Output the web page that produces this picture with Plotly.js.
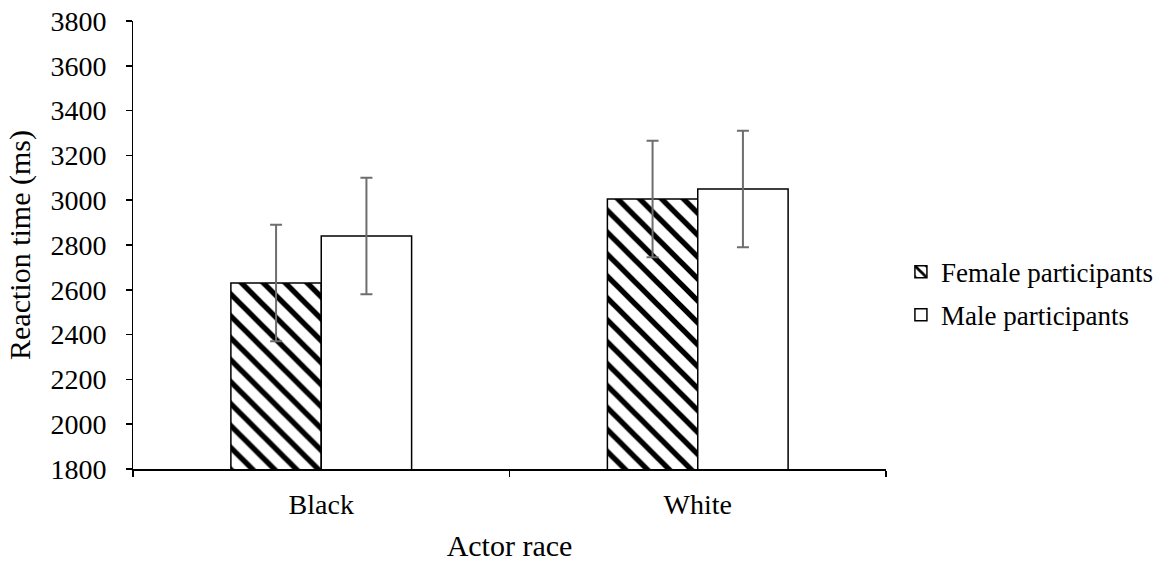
<!DOCTYPE html>
<html><head><meta charset="utf-8">
<script src="https://cdn.plot.ly/plotly-3.0.1.min.js"></script>
<style>html,body{margin:0;padding:0;background:#fff}</style>
</head><body>
<div id="chart" style="width:1167px;height:567px"></div>
<script>
const categories = ["Black", "White"];
const femaleRT = [2630, 3005];
const maleRT = [2840, 3050];
const femaleErr = [260, 260];
const maleErr = [260, 260];
const seriesNames = ["Female participants", "Male participants"];
const yTicks = [1800, 2000, 2200, 2400, 2600, 2800, 3000, 3200, 3400, 3600, 3800];
const yRange = [1800, 3800];

const font = '"Liberation Serif", "Times New Roman", serif';
const errStyle = {type: "data", visible: true, thickness: 2, width: 6, color: "#6e6e6e"};

const traces = [
  {type: "bar", name: seriesNames[0], x: categories, y: femaleRT,
   error_y: Object.assign({array: femaleErr}, errStyle),
   legendgroup: "f",
   marker: {color: "#ffffff", line: {color: "#000", width: 1.5},
            pattern: {shape: "\\", fgcolor: "#000", fgopacity: 1, bgcolor: "#fff", size: 15.5, solidity: 0.35, fillmode: "overlay"}}},
  {type: "bar", name: seriesNames[1], x: categories, y: maleRT,
   error_y: Object.assign({array: maleErr}, errStyle),
   legendgroup: "m",
   marker: {color: "#ffffff", line: {color: "#000", width: 1.5}}},
  // carrier for the label axis (no visible marks)
  {type: "scatter", mode: "markers", x: categories, y: [null, null], yaxis: "y2",
   showlegend: false, hoverinfo: "skip", marker: {opacity: 0}}
];

const layout = {
  width: 1167, height: 567,
  margin: {l: 133, r: 281, t: 21, b: 98},
  paper_bgcolor: "#fff", plot_bgcolor: "#fff",
  font: {family: font, color: "#000", size: 26},
  barmode: "group", bargap: 0.52, bargroupgap: 0,
  showlegend: true,
  legend: {xref: "container", yref: "container", x: 0.772, y: 0.482, xanchor: "left", yanchor: "middle",
           font: {family: font, size: 27, color: "#000"},
           traceorder: "grouped", tracegroupgap: 5, itemwidth: 30},
  xaxis: {type: "category", tickson: "boundaries", ticks: "outside", ticklen: 6, tickwidth: 1.5,
          tickcolor: "#000", showline: true, linecolor: "#000", linewidth: 1.5,
          showgrid: false, zeroline: false, ticklabelstandoff: 10, automargin: false,
          tickfont: {family: font, size: 28},
          title: {text: "Actor race", font: {family: font, size: 30}, standoff: 16}},
  yaxis: {range: yRange, tickvals: yTicks, ticks: "outside", ticklen: 6, tickwidth: 1.5,
          tickcolor: "#000", showline: true, linecolor: "#000", linewidth: 1.5,
          showgrid: false, zeroline: false, showticklabels: false, automargin: false},
  yaxis2: {overlaying: "y", side: "left", range: yRange, tickvals: yTicks,
           ticks: "outside", ticklen: 20, tickcolor: "rgba(0,0,0,0)",
           showline: false, showgrid: false, zeroline: false, automargin: false,
           tickfont: {family: font, size: 28},
           title: {text: "Reaction time (ms)", font: {family: font, size: 30}, standoff: 10}}
};

Plotly.newPlot("chart", traces, layout, {displayModeBar: false, staticPlot: true});
</script>
</body></html>
